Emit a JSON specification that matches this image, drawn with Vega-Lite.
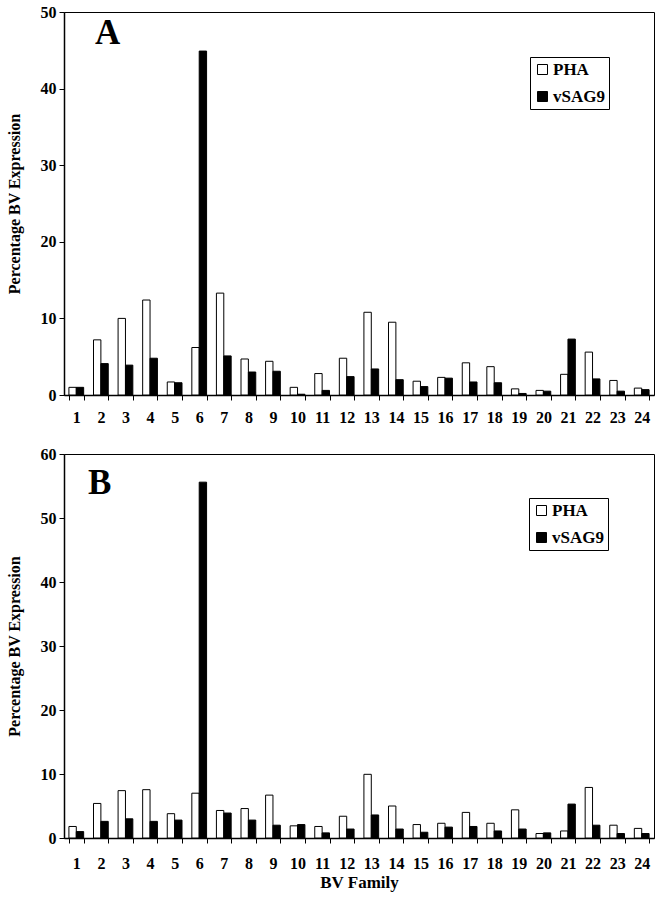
{
  "$schema": "https://vega.github.io/schema/vega-lite/v6.json",
  "padding": {"left": 5, "top": 3, "right": 5, "bottom": 3},
  "background": "white",
  "config": {
    "font": "Liberation Serif",
    "view": {"stroke": "black", "strokeWidth": 1},
    "axis": {"domainColor": "black", "tickColor": "black", "labelColor": "black", "titleColor": "black", "labelFont": "Liberation Serif", "titleFont": "Liberation Serif", "labelFontWeight": "bold", "titleFontWeight": "bold", "grid": false},
    "legend": {"labelFont": "Liberation Serif", "labelFontWeight": "bold", "labelFontSize": 17, "labelColor": "black"},
    "title": {"font": "Liberation Serif", "fontWeight": "bold", "color": "black"}
  },
  "data": {"values": [
    {"panel":"A","family":1,"series":"PHA","value":1.0},{"panel":"A","family":1,"series":"vSAG9","value":1.0},
    {"panel":"A","family":2,"series":"PHA","value":7.2},{"panel":"A","family":2,"series":"vSAG9","value":4.1},
    {"panel":"A","family":3,"series":"PHA","value":10.0},{"panel":"A","family":3,"series":"vSAG9","value":3.9},
    {"panel":"A","family":4,"series":"PHA","value":12.4},{"panel":"A","family":4,"series":"vSAG9","value":4.8},
    {"panel":"A","family":5,"series":"PHA","value":1.7},{"panel":"A","family":5,"series":"vSAG9","value":1.6},
    {"panel":"A","family":6,"series":"PHA","value":6.2},{"panel":"A","family":6,"series":"vSAG9","value":44.9},
    {"panel":"A","family":7,"series":"PHA","value":13.3},{"panel":"A","family":7,"series":"vSAG9","value":5.1},
    {"panel":"A","family":8,"series":"PHA","value":4.7},{"panel":"A","family":8,"series":"vSAG9","value":3.0},
    {"panel":"A","family":9,"series":"PHA","value":4.4},{"panel":"A","family":9,"series":"vSAG9","value":3.1},
    {"panel":"A","family":10,"series":"PHA","value":1.0},{"panel":"A","family":10,"series":"vSAG9","value":0.1},
    {"panel":"A","family":11,"series":"PHA","value":2.8},{"panel":"A","family":11,"series":"vSAG9","value":0.6},
    {"panel":"A","family":12,"series":"PHA","value":4.8},{"panel":"A","family":12,"series":"vSAG9","value":2.4},
    {"panel":"A","family":13,"series":"PHA","value":10.8},{"panel":"A","family":13,"series":"vSAG9","value":3.4},
    {"panel":"A","family":14,"series":"PHA","value":9.5},{"panel":"A","family":14,"series":"vSAG9","value":2.0},
    {"panel":"A","family":15,"series":"PHA","value":1.8},{"panel":"A","family":15,"series":"vSAG9","value":1.1},
    {"panel":"A","family":16,"series":"PHA","value":2.3},{"panel":"A","family":16,"series":"vSAG9","value":2.2},
    {"panel":"A","family":17,"series":"PHA","value":4.2},{"panel":"A","family":17,"series":"vSAG9","value":1.7},
    {"panel":"A","family":18,"series":"PHA","value":3.7},{"panel":"A","family":18,"series":"vSAG9","value":1.6},
    {"panel":"A","family":19,"series":"PHA","value":0.8},{"panel":"A","family":19,"series":"vSAG9","value":0.2},
    {"panel":"A","family":20,"series":"PHA","value":0.6},{"panel":"A","family":20,"series":"vSAG9","value":0.5},
    {"panel":"A","family":21,"series":"PHA","value":2.7},{"panel":"A","family":21,"series":"vSAG9","value":7.3},
    {"panel":"A","family":22,"series":"PHA","value":5.6},{"panel":"A","family":22,"series":"vSAG9","value":2.1},
    {"panel":"A","family":23,"series":"PHA","value":1.9},{"panel":"A","family":23,"series":"vSAG9","value":0.5},
    {"panel":"A","family":24,"series":"PHA","value":0.9},{"panel":"A","family":24,"series":"vSAG9","value":0.7},
    {"panel":"B","family":1,"series":"PHA","value":1.8},{"panel":"B","family":1,"series":"vSAG9","value":1.0},
    {"panel":"B","family":2,"series":"PHA","value":5.4},{"panel":"B","family":2,"series":"vSAG9","value":2.6},
    {"panel":"B","family":3,"series":"PHA","value":7.4},{"panel":"B","family":3,"series":"vSAG9","value":3.0},
    {"panel":"B","family":4,"series":"PHA","value":7.55},{"panel":"B","family":4,"series":"vSAG9","value":2.6},
    {"panel":"B","family":5,"series":"PHA","value":3.8},{"panel":"B","family":5,"series":"vSAG9","value":2.8},
    {"panel":"B","family":6,"series":"PHA","value":7.0},{"panel":"B","family":6,"series":"vSAG9","value":55.6},
    {"panel":"B","family":7,"series":"PHA","value":4.3},{"panel":"B","family":7,"series":"vSAG9","value":3.9},
    {"panel":"B","family":8,"series":"PHA","value":4.6},{"panel":"B","family":8,"series":"vSAG9","value":2.8},
    {"panel":"B","family":9,"series":"PHA","value":6.7},{"panel":"B","family":9,"series":"vSAG9","value":2.0},
    {"panel":"B","family":10,"series":"PHA","value":1.9},{"panel":"B","family":10,"series":"vSAG9","value":2.1},
    {"panel":"B","family":11,"series":"PHA","value":1.8},{"panel":"B","family":11,"series":"vSAG9","value":0.8},
    {"panel":"B","family":12,"series":"PHA","value":3.4},{"panel":"B","family":12,"series":"vSAG9","value":1.4},
    {"panel":"B","family":13,"series":"PHA","value":9.95},{"panel":"B","family":13,"series":"vSAG9","value":3.6},
    {"panel":"B","family":14,"series":"PHA","value":5.0},{"panel":"B","family":14,"series":"vSAG9","value":1.4},
    {"panel":"B","family":15,"series":"PHA","value":2.1},{"panel":"B","family":15,"series":"vSAG9","value":0.9},
    {"panel":"B","family":16,"series":"PHA","value":2.3},{"panel":"B","family":16,"series":"vSAG9","value":1.7},
    {"panel":"B","family":17,"series":"PHA","value":4.0},{"panel":"B","family":17,"series":"vSAG9","value":1.8},
    {"panel":"B","family":18,"series":"PHA","value":2.3},{"panel":"B","family":18,"series":"vSAG9","value":1.1},
    {"panel":"B","family":19,"series":"PHA","value":4.4},{"panel":"B","family":19,"series":"vSAG9","value":1.4},
    {"panel":"B","family":20,"series":"PHA","value":0.7},{"panel":"B","family":20,"series":"vSAG9","value":0.8},
    {"panel":"B","family":21,"series":"PHA","value":1.1},{"panel":"B","family":21,"series":"vSAG9","value":5.3},
    {"panel":"B","family":22,"series":"PHA","value":7.9},{"panel":"B","family":22,"series":"vSAG9","value":2.0},
    {"panel":"B","family":23,"series":"PHA","value":2.0},{"panel":"B","family":23,"series":"vSAG9","value":0.7},
    {"panel":"B","family":24,"series":"PHA","value":1.5},{"panel":"B","family":24,"series":"vSAG9","value":0.7}
  ]},
  "spacing": 19,
  "resolve": {"scale": {"color": "independent", "y": "independent"}, "legend": {"color": "independent"}},
  "vconcat": [
    {
      "width": 590,
      "height": 383,
      "title": {"text": "A", "anchor": "start", "frame": "group", "dx": 31, "offset": -47, "fontSize": 35},
      "transform": [{"filter": "datum.panel === 'A'"}],
      "mark": {"type": "bar", "stroke": "black", "strokeWidth": 1},
      "encoding": {
        "x": {"field": "family", "type": "ordinal", "sort": "ascending",
              "scale": {"paddingInner": 0.4, "paddingOuter": 0.2},
              "axis": {"title": null, "labelAngle": 0, "labelFontSize": 16, "labelPadding": 9, "tickBand": "extent", "tickSize": 5, "domainWidth": 1.5}},
        "xOffset": {"field": "series", "type": "nominal", "sort": ["PHA", "vSAG9"]},
        "y": {"field": "value", "type": "quantitative",
              "scale": {"domain": [0, 50], "nice": false},
              "axis": {"title": "Percentage BV Expression", "values": [0, 10, 20, 30, 40, 50], "labelFontSize": 16, "titleFontSize": 16, "tickSize": 5, "labelPadding": 3, "titlePadding": 18, "domainWidth": 1.5}},
        "color": {"field": "series", "type": "nominal", "sort": ["PHA", "vSAG9"],
                  "scale": {"domain": ["PHA", "vSAG9"], "range": ["white", "black"]},
                  "legend": {"title": null, "orient": "none", "legendX": 466, "legendY": 45, "strokeColor": "black", "fillColor": "white", "padding": 4, "symbolType": "square", "symbolSize": 100, "symbolStrokeColor": "black", "symbolStrokeWidth": 1, "rowPadding": 9, "labelOffset": 2}}
      }
    },
    {
      "width": 590,
      "height": 384,
      "title": {"text": "B", "anchor": "start", "frame": "group", "dx": 24, "offset": -55, "fontSize": 35},
      "transform": [{"filter": "datum.panel === 'B'"}],
      "mark": {"type": "bar", "stroke": "black", "strokeWidth": 1},
      "encoding": {
        "x": {"field": "family", "type": "ordinal", "sort": "ascending",
              "scale": {"paddingInner": 0.4, "paddingOuter": 0.2},
              "axis": {"title": "BV Family", "titleFontSize": 17, "titlePadding": 3, "labelAngle": 0, "labelFontSize": 16, "labelPadding": 12, "tickBand": "extent", "tickSize": 5, "domainWidth": 1.5}},
        "xOffset": {"field": "series", "type": "nominal", "sort": ["PHA", "vSAG9"]},
        "y": {"field": "value", "type": "quantitative",
              "scale": {"domain": [0, 60], "nice": false},
              "axis": {"title": "Percentage BV Expression", "values": [0, 10, 20, 30, 40, 50, 60], "labelFontSize": 16, "titleFontSize": 16, "tickSize": 5, "labelPadding": 3, "titlePadding": 18, "domainWidth": 1.5}},
        "color": {"field": "series", "type": "nominal", "sort": ["PHA", "vSAG9"],
                  "scale": {"domain": ["PHA", "vSAG9"], "range": ["white", "black"]},
                  "legend": {"title": null, "orient": "none", "legendX": 465, "legendY": 44, "strokeColor": "black", "fillColor": "white", "padding": 4, "symbolType": "square", "symbolSize": 100, "symbolStrokeColor": "black", "symbolStrokeWidth": 1, "rowPadding": 9, "labelOffset": 2}}
      }
    }
  ]
}
